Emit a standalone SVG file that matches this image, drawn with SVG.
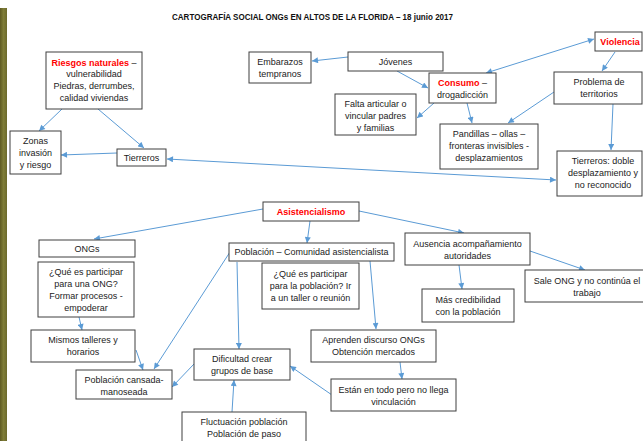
<svg xmlns="http://www.w3.org/2000/svg" width="643" height="441" viewBox="0 0 643 441">
<defs>
<style>
.b{fill:#fff;stroke:#3f3f3f;stroke-width:1}
.t{font-family:"Liberation Sans",Arial,sans-serif;font-size:9px;fill:#222;text-anchor:middle}
.r{fill:#ff0000;font-weight:bold}
.c{stroke:#5b9bd5;stroke-width:1;fill:none;marker-end:url(#ah)}
.d{marker-start:url(#ah)}
</style>
<marker id="ah" viewBox="0 0 10 10" refX="10" refY="5" markerWidth="7" markerHeight="6" markerUnits="userSpaceOnUse" orient="auto-start-reverse">
<path d="M0,0 L10,5 L0,10 z" fill="#5b9bd5"/>
</marker>
<linearGradient id="olive" x1="0" y1="0" x2="1" y2="0">
<stop offset="0" stop-color="#5e5a22"/>
<stop offset="0.5" stop-color="#7f7d38"/>
<stop offset="1" stop-color="#6c6a2c"/>
</linearGradient>
</defs>
<rect width="643" height="441" fill="#fff"/>
<rect x="0" y="8" width="7" height="433" fill="url(#olive)"/>
<text x="312.5" y="20" style="font-family:'Liberation Sans',Arial,sans-serif;font-size:9px;font-weight:bold;fill:#111;text-anchor:middle" textLength="281" lengthAdjust="spacingAndGlyphs">CARTOGRAFÍA SOCIAL ONGs EN ALTOS DE LA FLORIDA – 18 junio 2017</text>

<g id="connectors">
<line class="c" x1="62" y1="109" x2="39" y2="131"/>
<line class="c" x1="98" y1="109" x2="144" y2="148"/>
<line class="c" x1="117" y1="153" x2="61" y2="155"/>
<line class="c d" x1="167" y1="159" x2="556" y2="180"/>
<line class="c" x1="348" y1="57" x2="312" y2="61"/>
<line class="c" x1="397" y1="71" x2="428" y2="88"/>
<line class="c d" x1="486" y1="73" x2="594" y2="39"/>
<line class="c" x1="615" y1="52" x2="602" y2="71"/>
<line class="c" x1="434" y1="103" x2="417" y2="118"/>
<line class="c" x1="467" y1="103" x2="472" y2="123"/>
<line class="c" x1="554" y1="92" x2="508" y2="123"/>
<line class="c" x1="613" y1="104" x2="611" y2="150"/>
<line class="c" x1="263" y1="209" x2="94" y2="239"/>
<line class="c" x1="310" y1="221" x2="307" y2="243"/>
<line class="c" x1="359" y1="211" x2="464" y2="233"/>
<line class="c" x1="530" y1="251" x2="585" y2="270"/>
<line class="c" x1="459" y1="265" x2="462" y2="289"/>
<line class="c" x1="370" y1="261" x2="376" y2="329"/>
<line class="c" x1="230" y1="252" x2="154" y2="369"/>
<line class="c" x1="237" y1="262" x2="239" y2="349"/>
<line class="c" x1="79" y1="317" x2="82" y2="330"/>
<line class="c" x1="136" y1="350" x2="143" y2="370"/>
<line class="c" x1="194" y1="364" x2="172" y2="387"/>
<line class="c" x1="232" y1="412" x2="234" y2="380"/>
<line class="c" x1="332" y1="395" x2="290" y2="366"/>
<line class="c" x1="400" y1="362" x2="402" y2="379"/>
</g>

<g id="riesgos"><rect class="b" x="46" y="52" width="96" height="57"/>
<text class="t" x="94" y="65.5"><tspan class="r">Riesgos naturales</tspan> –</text>
<text class="t" x="94" y="77">vulnerabilidad</text>
<text class="t" x="94" y="89">Piedras, derrumbes,</text>
<text class="t" x="94" y="101">calidad viviendas</text></g>

<g id="embarazos"><rect class="b" x="249" y="52" width="62" height="31"/>
<text class="t" x="280" y="65">Embarazos</text>
<text class="t" x="280" y="77">tempranos</text></g>

<g id="jovenes"><rect class="b" x="348" y="52" width="95" height="19"/>
<text class="t" x="395.5" y="64.5">Jóvenes</text></g>

<g id="consumo"><rect class="b" x="429" y="73" width="67" height="30"/>
<text class="t" x="462.5" y="86"><tspan class="r">Consumo</tspan> –</text>
<text class="t" x="462.5" y="98">drogadicción</text></g>

<g id="violencia"><rect class="b" x="595" y="32" width="47" height="19"/>
<text class="t r" x="620" y="44.5" style="fill:#ff0000">Violencia</text></g>

<g id="problema"><rect class="b" x="554" y="72" width="88" height="32"/>
<text class="t" x="599" y="85">Problema de</text>
<text class="t" x="599" y="97">territorios</text></g>

<g id="falta"><rect class="b" x="335" y="94" width="81" height="41"/>
<text class="t" x="375.5" y="107">Falta articular o</text>
<text class="t" x="375.5" y="119">vincular padres</text>
<text class="t" x="375.5" y="131">y familias</text></g>

<g id="pandillas"><rect class="b" x="440" y="124" width="98" height="45"/>
<text class="t" x="489" y="137">Pandillas – ollas –</text>
<text class="t" x="489" y="149">fronteras invisibles -</text>
<text class="t" x="489" y="161">desplazamientos</text></g>

<g id="zonas"><rect class="b" x="10" y="131" width="51" height="43"/>
<text class="t" x="35.5" y="144">Zonas</text>
<text class="t" x="35.5" y="156">invasión</text>
<text class="t" x="35.5" y="168">y riesgo</text></g>

<g id="tierreros"><rect class="b" x="117" y="149" width="49" height="17"/>
<text class="t" x="141.5" y="160.5">Tierreros</text></g>

<g id="tierreros-doble"><rect class="b" x="557" y="151" width="85" height="45"/>
<text class="t" x="603" y="164">Tierreros: doble</text>
<text class="t" x="603" y="176">desplazamiento y</text>
<text class="t" x="603" y="188">no reconocido</text></g>

<g id="asistencialismo"><rect class="b" x="263" y="202" width="96" height="19"/>
<text class="t r" x="311" y="214.5" style="fill:#ff0000">Asistencialismo</text></g>

<g id="ongs"><rect class="b" x="39" y="240" width="96" height="17"/>
<text class="t" x="87" y="251.5">ONGs</text></g>

<g id="que-ong"><rect class="b" x="38" y="262" width="96" height="55"/>
<text class="t" x="86" y="275">¿Qué es participar</text>
<text class="t" x="86" y="287">para una ONG?</text>
<text class="t" x="86" y="299">Formar procesos -</text>
<text class="t" x="86" y="311">empoderar</text></g>

<g id="poblacion"><rect class="b" x="229" y="243" width="165" height="18"/>
<text class="t" x="311.5" y="255">Población – Comunidad asistencialista</text></g>

<g id="que-poblacion"><rect class="b" x="262" y="263" width="97" height="46"/>
<text class="t" x="310.5" y="277">¿Qué es participar</text>
<text class="t" x="310.5" y="289">para la población? Ir</text>
<text class="t" x="310.5" y="301">a un taller o reunión</text></g>

<g id="ausencia"><rect class="b" x="405" y="233" width="125" height="32"/>
<text class="t" x="467.5" y="247">Ausencia acompañamiento</text>
<text class="t" x="467.5" y="259">autoridades</text></g>

<g id="sale"><rect class="b" x="525" y="270" width="125" height="32"/>
<text class="t" x="587" y="284">Sale ONG y no continúa el</text>
<text class="t" x="587" y="296">trabajo</text></g>

<g id="mas"><rect class="b" x="422" y="289" width="92" height="33"/>
<text class="t" x="468" y="303">Más credibilidad</text>
<text class="t" x="468" y="315">con la población</text></g>

<g id="mismos"><rect class="b" x="31" y="330" width="104" height="32"/>
<text class="t" x="83" y="343">Mismos talleres y</text>
<text class="t" x="83" y="355">horarios</text></g>

<g id="cansada"><rect class="b" x="76" y="370" width="96" height="29"/>
<text class="t" x="124" y="383">Población cansada-</text>
<text class="t" x="124" y="395">manoseada</text></g>

<g id="dificultad"><rect class="b" x="194" y="349" width="96" height="31"/>
<text class="t" x="242" y="362">Dificultad crear</text>
<text class="t" x="242" y="374">grupos de base</text></g>

<g id="aprenden"><rect class="b" x="311" y="330" width="125" height="32"/>
<text class="t" x="373.5" y="343">Aprenden discurso ONGs</text>
<text class="t" x="373.5" y="355">Obtención mercados</text></g>

<g id="estan"><rect class="b" x="331" y="379" width="125" height="32"/>
<text class="t" x="393.5" y="393">Están en todo pero no llega</text>
<text class="t" x="393.5" y="405">vinculación</text></g>

<g id="fluctuacion"><rect class="b" x="182" y="412" width="124" height="35"/>
<text class="t" x="244" y="425">Fluctuación población</text>
<text class="t" x="244" y="437">Población de paso</text></g>
</svg>
